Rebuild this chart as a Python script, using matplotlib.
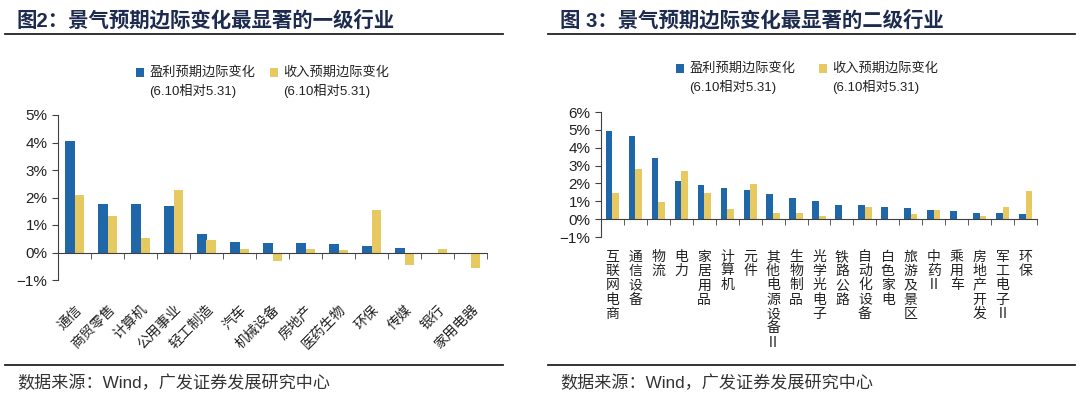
import matplotlib.pyplot as plt
import numpy as np
from matplotlib.ticker import PercentFormatter

plt.rcParams['font.family'] = ['Liberation Sans', 'Noto Sans CJK SC', 'DejaVu Sans']

BLUE = '#1f67a8'
YELLOW = '#e6c960'
NAVY = '#1d2b4f'
AXIS = '#404040'

# 图2：一级行业
ind1 = ['通信', '商贸零售', '计算机', '公用事业', '轻工制造', '汽车', '机械设备',
        '房地产', '医药生物', '环保', '传媒', '银行', '家用电器']
profit1 = [4.04, 1.77, 1.75, 1.70, 0.69, 0.38, 0.36, 0.33, 0.31, 0.25, 0.15, 0.0, 0.0]
revenue1 = [2.08, 1.32, 0.52, 2.28, 0.47, 0.12, -0.32, 0.12, 0.10, 1.53, -0.44, 0.14, -0.55]

# 图3：二级行业
ind2 = ['互联网电商', '通信设备', '物流', '电力', '家居用品', '计算机', '元件',
        '其他电源设备Ⅱ', '生物制品', '光学光电子', '铁路公路', '自动化设备', '白色家电',
        '旅游及景区', '中药Ⅱ', '乘用车', '房地产开发', '军工电子Ⅱ', '环保']
profit2 = [4.95, 4.66, 3.41, 2.12, 1.93, 1.76, 1.63, 1.42, 1.18, 1.03, 0.80, 0.80, 0.66,
           0.60, 0.54, 0.43, 0.36, 0.32, 0.27]
revenue2 = [1.48, 2.83, 0.94, 2.72, 1.48, 0.58, 1.95, 0.32, 0.36, 0.20, 0.0, 0.66, 0.0,
            0.28, 0.54, 0.0, 0.15, 0.70, 1.56]

legend_labels = ['盈利预期边际变化\n(6.10相对5.31)', '收入预期边际变化\n(6.10相对5.31)']


def draw_panel(fig, rect, cats, blue, yellow, ylim, vertical, label_pad):
  ax = fig.add_axes(rect)
  x = np.arange(len(cats))
  w = 0.29
  b1 = ax.bar(x - w / 2, blue, w, color=BLUE, label=legend_labels[0])
  b2 = ax.bar(x + w / 2, yellow, w, color=YELLOW, label=legend_labels[1])
  ax.set_xlim(-0.5, len(cats) - 0.5)
  ax.set_ylim(*ylim)
  ax.set_yticks(np.arange(ylim[0], ylim[1] + 1))
  ax.yaxis.set_major_formatter(PercentFormatter(decimals=0))
  for s in ['top', 'right']:
    ax.spines[s].set_visible(False)
  ax.spines['bottom'].set_position(('data', 0))
  ax.spines['bottom'].set_color(AXIS)
  ax.spines['left'].set_color(AXIS)
  ax.tick_params(axis='y', direction='out', length=4, color=AXIS, labelsize=11, labelcolor='#222222')
  ax.set_xticks(x + 0.5, minor=True)
  ax.tick_params(axis='x', which='minor', direction='out', length=4, color=AXIS)
  ax.set_xticks(x)
  if vertical:
    ax.set_xticklabels(['\n'.join(c) for c in cats], fontsize=10, va='top',
                       linespacing=1.03, color='#222222')
  else:
    ax.set_xticklabels(cats, fontsize=10, rotation=45, ha='right',
                       rotation_mode='anchor', color='#222222')
  ax.tick_params(axis='x', which='major', length=0, pad=label_pad)
  return ax, (b1, b2)


def header(fig, x0, x1, text):
  fig.text(x0 + 0.011, 1 - 20 / 397, text, fontsize=14.7, fontweight='bold', color=NAVY,
           va='center', ha='left')
  fig.add_artist(plt.Line2D([x0, x1], [1 - 34 / 397] * 2, color='#222222', lw=1.3))
  fig.add_artist(plt.Line2D([x0, x1], [1 - 365 / 397] * 2, color='#222222', lw=1.3))
  fig.text(x0 + 0.011, 1 - 383 / 397, '数据来源：Wind，广发证券发展研究中心', fontsize=12.3,
           color='#333333', va='center', ha='left')


fig = plt.figure(figsize=(10.8, 3.97), dpi=100)
W, H = 1080, 397

header(fig, 5 / W, 503 / W, '图2：景气预期边际变化最显著的一级行业')
header(fig, 548 / W, 1075 / W, '图 3：景气预期边际变化最显著的二级行业')

leg_kw = dict(ncol=2, frameon=False, fontsize=9.5, handlelength=0.6, handleheight=0.6,
              handletextpad=0.4, borderaxespad=0, borderpad=0, labelspacing=0)

ax1, h1 = draw_panel(fig, [58 / W, 1 - 280 / H, 429 / W, 165 / H], ind1, profit1, revenue1,
                     (-1, 5), False, 36)
leg1 = ax1.legend(h1, legend_labels, loc='upper left', bbox_to_anchor=(136 / W, 1 - 66 / H),
                  bbox_transform=fig.transFigure, columnspacing=1.15, **leg_kw)

ax2, h2 = draw_panel(fig, [601 / W, 1 - 237 / H, 436 / W, 125 / H], ind2, profit2, revenue2,
                     (-1, 6), True, 22)
leg2 = ax2.legend(h2, legend_labels, loc='upper left', bbox_to_anchor=(676 / W, 1 - 62 / H),
                  bbox_transform=fig.transFigure, columnspacing=1.8, **leg_kw)

# 图例色块与第一行文字对齐
for leg in (leg1, leg2):
  for t in leg.get_texts():
    t.set_linespacing(1.45)
    t.set_color('#222222')
  for hnd in leg.legend_handles:
    hnd.set_y(hnd.get_y() + 6.5)

fig.savefig('out.png', dpi=100)
